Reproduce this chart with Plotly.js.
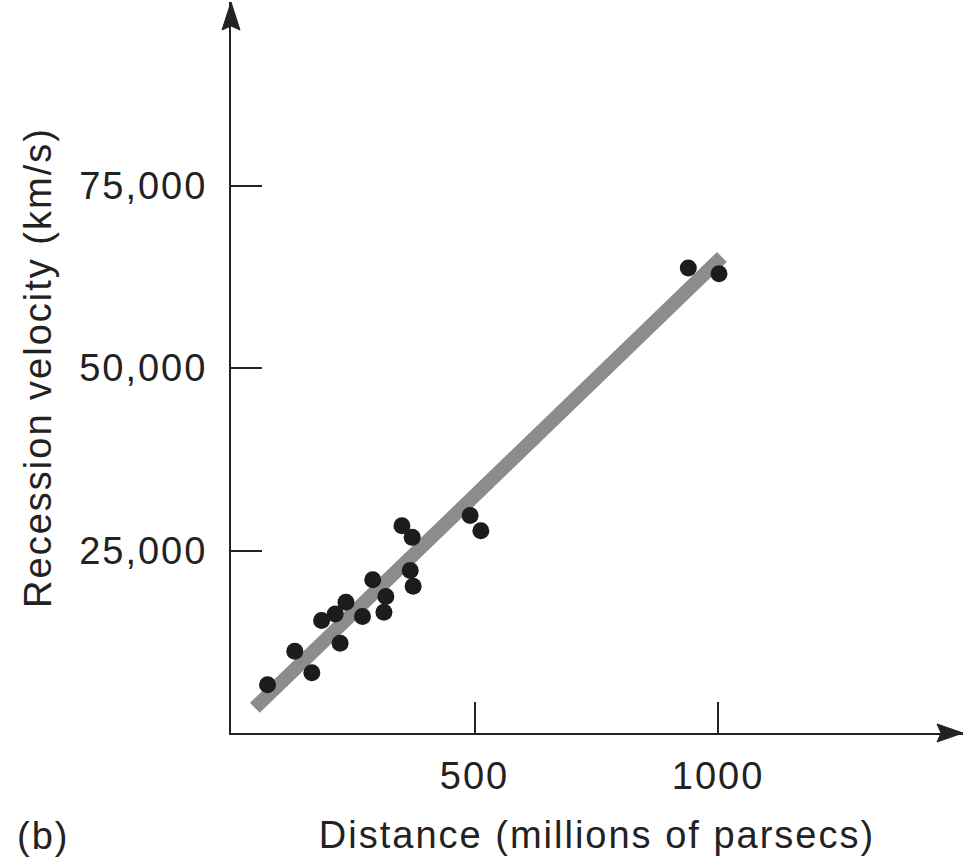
<!DOCTYPE html>
<html>
<head>
<meta charset="utf-8">
<script src="https://cdn.plot.ly/plotly-3.0.1.min.js"></script>
<style>
  html, body { margin: 0; padding: 0; background: #fff; }
  #chart { width: 969px; height: 857px; }
  #chart .main-svg text { letter-spacing: 2px; }
</style>
</head>
<body>
<div id="chart"></div>
<script>
// Galaxy data
const distance = [75, 131, 166, 186, 214, 224, 236, 270, 291, 314, 318, 351, 368, 372, 374, 491, 513, 939, 1002];
const velocity = [6600, 11200, 8250, 15400, 16300, 12300, 17900, 15950, 21000, 16550, 18700, 28400, 22250, 26800, 20100, 29800, 27700, 63700, 62900];

// Best-fit band endpoints
const fitX = [49, 1008];
const fitY = [3450, 65200];

// Axis ticks
const xTickVals = [500, 1000];
const xTickText = ["500", "1000"];
const yTickVals = [25000, 50000, 75000];
const yTickText = ["25,000", "50,000", "75,000"];

const ink = "#222222";
const fontFam = "Liberation Sans, Arial, Helvetica, sans-serif";

const traces = [
  {
    x: fitX, y: fitY,
    mode: "lines", type: "scatter",
    line: { color: "#8c8c8c", width: 14 },
    hoverinfo: "skip", showlegend: false
  },
  {
    x: distance, y: velocity,
    mode: "markers", type: "scatter",
    marker: { color: "#1c1c1c", size: 17, line: { width: 0 } },
    showlegend: false
  }
];

// plot area: x pixels 231..963, y pixels 2..733
const plotW = 732, plotH = 731;
function px(dx) { return dx / plotW; }
function py(dy) { return dy / plotH; }

const layout = {
  width: 969, height: 857,
  margin: { l: 231, r: 6, t: 2, b: 124, pad: 0 },
  paper_bgcolor: "#ffffff", plot_bgcolor: "#ffffff",
  font: { family: fontFam, size: 38, color: ink },
  showlegend: false,
  xaxis: {
    range: [0, 1503],
    showgrid: false, zeroline: false,
    showline: true, linecolor: ink, linewidth: 2,
    ticks: "inside", ticklen: 31, tickwidth: 2, tickcolor: ink,
    tickvals: xTickVals, ticktext: xTickText,
    ticklabelstandoff: 8,
    tickfont: { family: fontFam, size: 38, color: ink },
    title: { text: "Distance (millions of parsecs)", font: { family: fontFam, size: 38, color: ink }, standoff: 26 },
    fixedrange: true
  },
  yaxis: {
    range: [0, 100140],
    showgrid: false, zeroline: false,
    showline: true, linecolor: ink, linewidth: 2,
    ticks: "inside", ticklen: 31, tickwidth: 2, tickcolor: ink,
    tickvals: yTickVals, ticktext: yTickText,
    ticklabelstandoff: 14,
    tickfont: { family: fontFam, size: 38, color: ink },
    title: { text: "Recession velocity (km/s)", font: { family: fontFam, size: 38, color: ink }, standoff: 28 },
    fixedrange: true
  },
  shapes: [
    {
      type: "path", xref: "paper", yref: "paper",
      path: "M 1 0 L " + (1 - px(26)) + " " + py(9) + " L " + (1 - px(22)) + " 0 L " + (1 - px(26)) + " " + (-py(9)) + " Z",
      fillcolor: ink, line: { color: ink, width: 1 }
    },
    {
      type: "path", xref: "paper", yref: "paper",
      path: "M 0 1 L " + (-px(9)) + " " + (1 - py(28)) + " L 0 " + (1 - py(24)) + " L " + px(9) + " " + (1 - py(28)) + " Z",
      fillcolor: ink, line: { color: ink, width: 1 }
    }
  ],
  annotations: [
    {
      text: "(b)", xref: "paper", yref: "paper",
      x: px(18 - 231), y: py(733 - 836),
      xanchor: "left", yanchor: "middle", showarrow: false,
      font: { family: fontFam, size: 38, color: ink }
    }
  ]
};

Plotly.newPlot("chart", traces, layout, { displayModeBar: false, staticPlot: true });
</script>
</body>
</html>
